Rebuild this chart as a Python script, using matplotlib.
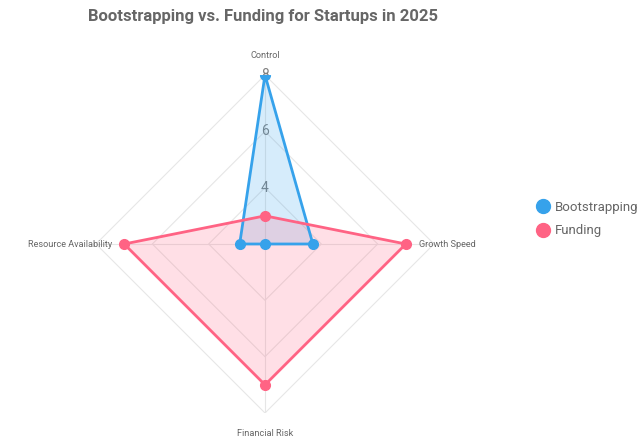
import numpy as np
import matplotlib.pyplot as plt
from matplotlib.lines import Line2D

# axes of the radar, clockwise from the top
categories = ["Control", "Growth Speed", "Financial Risk", "Resource Availability"]
bootstrapping = [8, 3.7, 2, 2.9]
funding = [3, 7, 7, 7]
ring_values = [4, 6, 8]
r_min, r_max = 2, 8

blue = "#36A2EB"
pink = "#FF6384"
grid_col = "#e6e6e6"
text_col = "#666666"
plt.rcParams['font.family'] = ['Roboto', 'DejaVu Sans']

fig = plt.figure(figsize=(6.4, 4.4), dpi=100)
ax = fig.add_axes([96 / 640, 27 / 440, 338 / 640, 338 / 440], projection="polar")
ax.set_theta_offset(np.pi / 2)
ax.set_theta_direction(-1)
ax.set_ylim(r_min, r_max)
ax.grid(False)
ax.spines["polar"].set_visible(False)
ax.set_xticks([])
ax.set_yticks([])
ax.patch.set_alpha(0)

angles = np.linspace(0, 2 * np.pi, len(categories), endpoint=False)
closed = np.append(angles, angles[0])

# polygon rings and spokes
for rv in ring_values:
    ax.plot(closed, [rv] * len(closed), color=grid_col, lw=0.8, zorder=1)
for a in angles:
    ax.plot([a, a], [r_min, r_max], color=grid_col, lw=0.8, zorder=1)

# tick labels on the Control spoke (the 8 sits under the point)
for rv in ring_values:
    ax.text(0, rv, str(rv), ha="center", va="center", fontsize=10,
            color="#808080", zorder=2)

series = [("Bootstrapping", bootstrapping, blue), ("Funding", funding, pink)]
for name, vals, col in series:
    v = np.append(vals, vals[0])
    ax.fill(closed, v, color=col, alpha=0.2, lw=0, zorder=3)
    ax.plot(closed, v, color=col, lw=2, zorder=4)
    ax.plot(angles, vals, "o", color=col, ms=7, zorder=5)

# point labels
lab = dict(fontsize=6.6, color=text_col)
fig.text(265 / 640, 1 - 55 / 440, categories[0], ha="center", va="center", **lab)
fig.text(419 / 640, 1 - 244 / 440, categories[1], ha="left", va="center", **lab)
fig.text(265 / 640, 1 - 433 / 440, categories[2], ha="center", va="center", **lab)
fig.text(112 / 640, 1 - 244 / 440, categories[3], ha="right", va="center", **lab)

fig.text(263 / 640, 1 - 17 / 440, "Bootstrapping vs. Funding for Startups in 2025",
         fontsize=12, fontweight="bold", color=text_col, ha="center", va="center")

handles = [Line2D([], [], marker="o", ls="", color=c, ms=10) for _, _, c in series]
fig.legend(handles, [s[0] for s in series], loc="center left",
           bbox_to_anchor=(528 / 640, 1 - 219 / 440), frameon=False,
           fontsize=9.5, labelcolor=text_col, handletextpad=0.35,
           handlelength=1.2, labelspacing=0.8, borderpad=0)

fig.savefig("out.png", dpi=100)
